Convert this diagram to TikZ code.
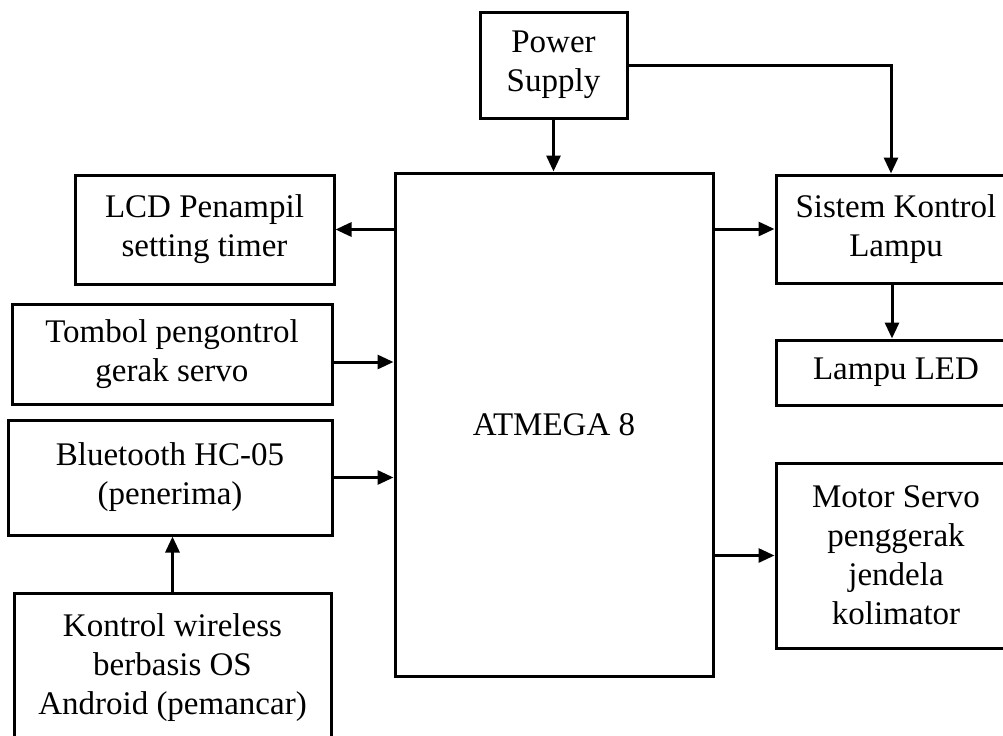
\documentclass[tikz,border=0pt]{standalone}
\usepackage{fontspec}
\setmainfont{Liberation Serif}
\usetikzlibrary{arrows.meta}

\begin{document}
\begin{tikzpicture}[x=0.5pt,y=-0.5pt]
  \tikzset{blok/.style={draw,line width=1.5pt,align=center,inner sep=0pt,
      font=\fontsize{16.5}{19.5}\selectfont},
    panah/.style={-{Triangle[length=8pt,width=7pt]},line width=1.5pt}}
  \useasboundingbox (0,0) rectangle (1003,735);
  \clip (0,0) rectangle (1003,735);
  \node[blok,minimum width=73.5pt,minimum height=53pt] (pwr) at (553.5,65) {Power\\Supply};
  \node[blok,minimum width=159pt,minimum height=251.5pt] (atm) at (554,424.5) {ATMEGA 8};
  \node[blok,minimum width=129.5pt,minimum height=54.5pt] (lcd) at (204.5,229.5) {LCD Penampil\\setting timer};
  \node[blok,minimum width=160pt,minimum height=50pt] (tbl) at (172,354) {Tombol pengontrol\\gerak servo};
  \node[blok,minimum width=162pt,minimum height=57.5pt] (bt) at (170,477.5) {Bluetooth HC-05\\(penerima)};
  \node[blok,minimum width=158.5pt,minimum height=75pt] (kon) at (172.5,668) {Kontrol wireless\\berbasis OS\\Android (pemancar)};
  \node[blok,minimum width=120pt,minimum height=54pt] (sis) at (896,229) {Sistem Kontrol\\Lampu};
  \node[blok,minimum width=120pt,minimum height=32.5pt] (led) at (896,372.5) {Lampu LED};
  \node[blok,minimum width=120pt,minimum height=92.5pt] (mot) at (896,555.5) {Motor Servo\\penggerak\\jendela\\kolimator};
  % power
  \draw[panah] (pwr.south) -- (pwr.south |- atm.north);
  \draw[panah] (pwr.east) -| ([xshift=-2.5pt]sis.north);
  % keluaran
  \draw[panah] (atm.east |- sis.west) -- (sis.west);
  \draw[panah] ([xshift=-2pt]sis.south) -- ([xshift=-2pt]led.north);
  \draw[panah] (atm.east |- mot.west) -- (mot.west);
  \draw[panah] (atm.west |- lcd.east) -- (lcd.east);
  % masukan
  \coordinate (tk) at ([yshift=-4pt]tbl.east);
  \draw[panah] (tk) -- (tk -| atm.west);
  \draw[panah] (bt.east) -- (bt.east -| atm.west);
  \draw[panah] (kon.north) -- (kon.north |- bt.south);
\end{tikzpicture}
\end{document}
